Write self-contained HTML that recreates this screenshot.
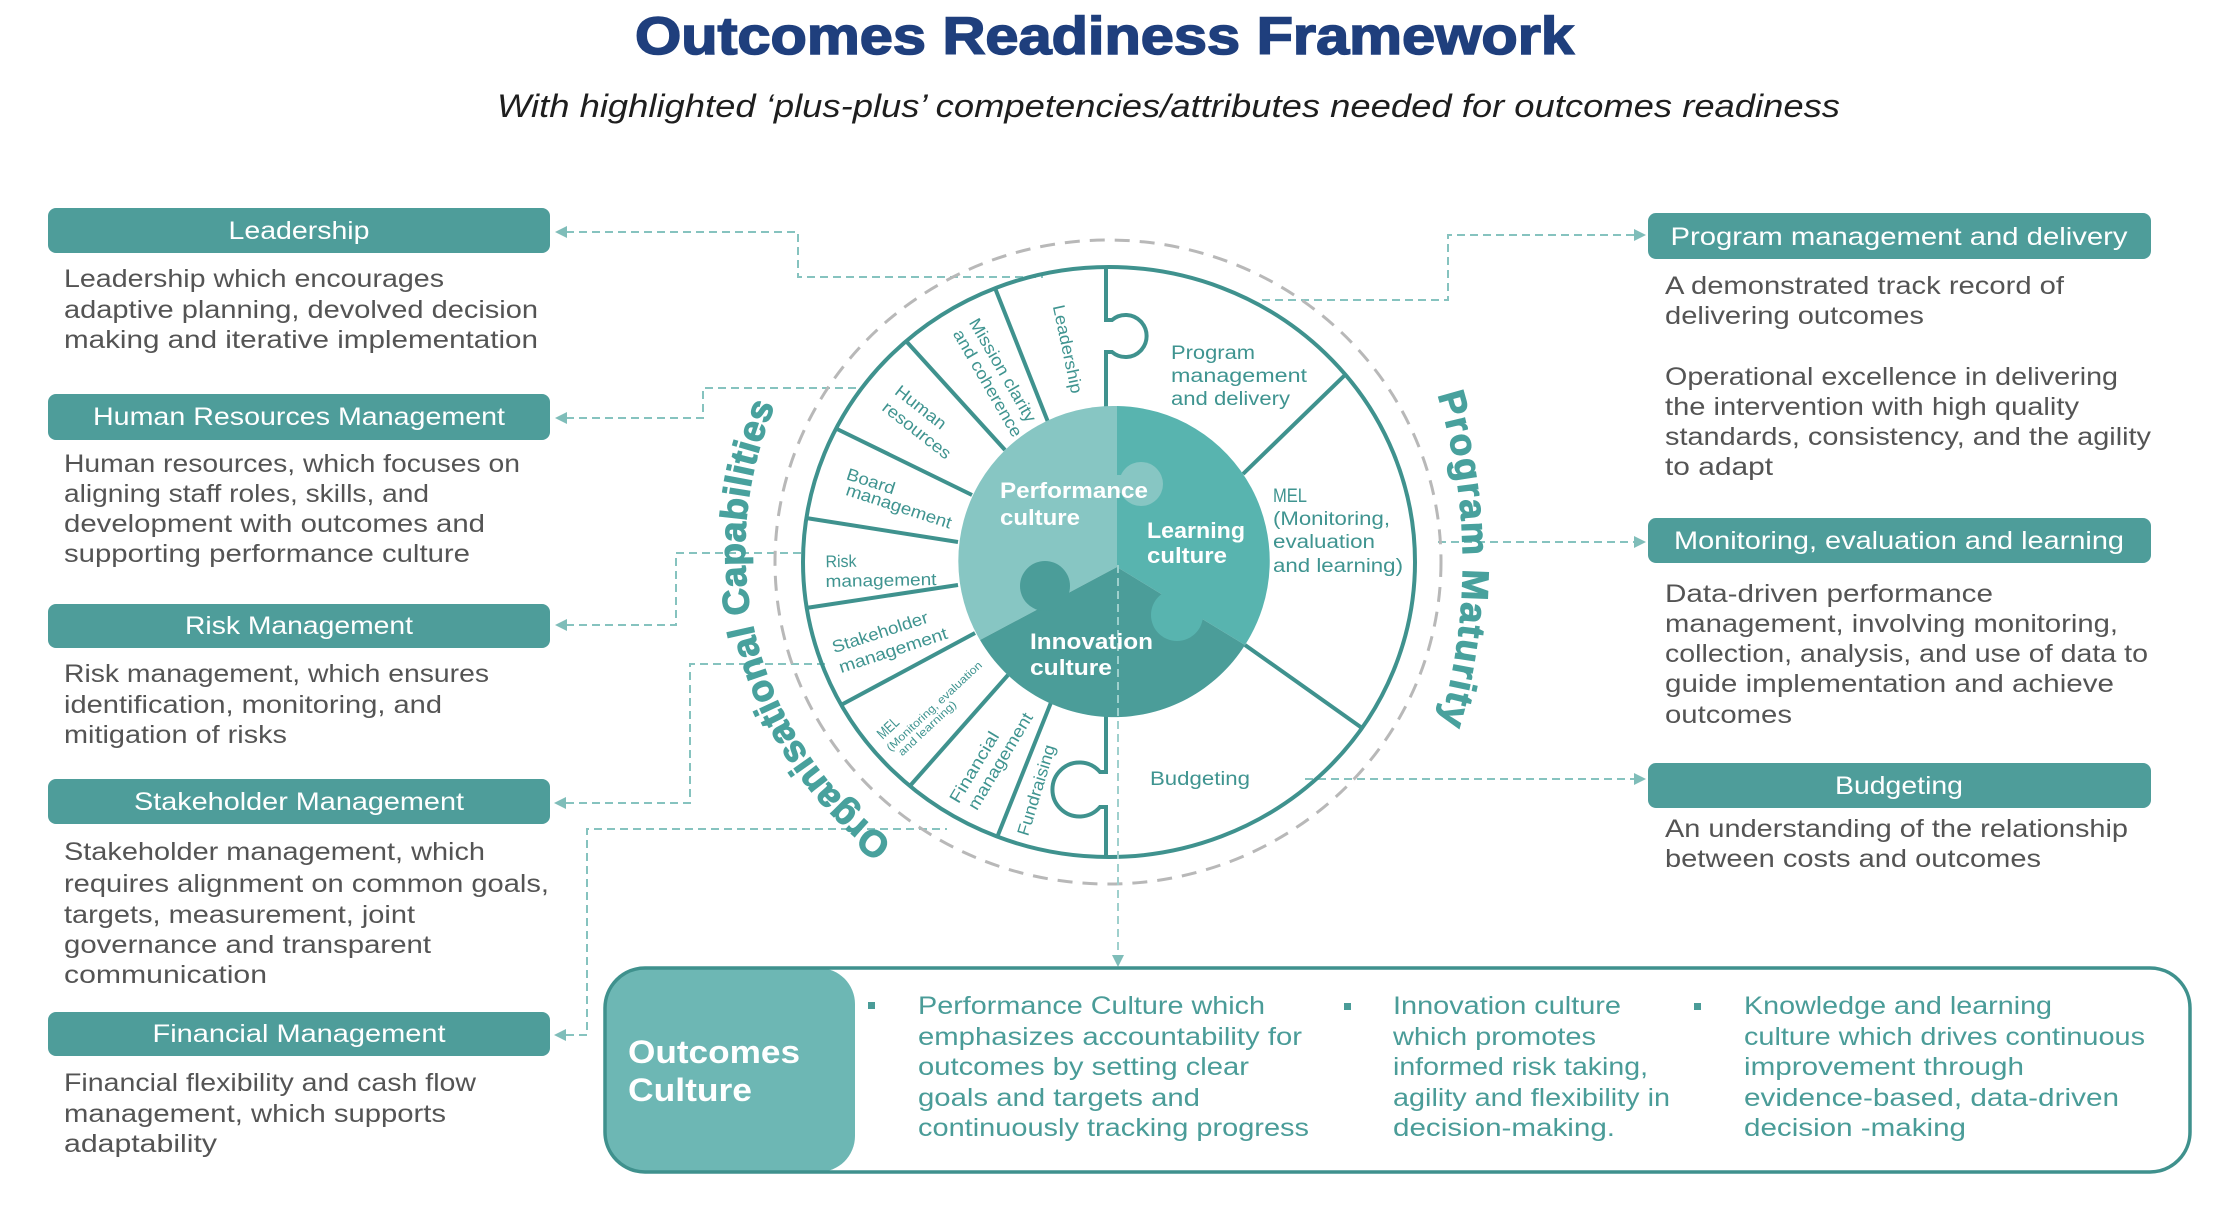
<!DOCTYPE html>
<html><head><meta charset="utf-8">
<style>
html,body{margin:0;padding:0;background:#fff;}
svg{display:block;}
text{font-family:"Liberation Sans", sans-serif;}
</style></head>
<body>
<svg width="2228" height="1218" viewBox="0 0 2228 1218" xmlns="http://www.w3.org/2000/svg">
<rect width="2228" height="1218" fill="#fff"/>

<!-- Title -->
<text x="635" y="54" font-size="53" font-weight="bold" fill="#1f3f7d" stroke="#1f3f7d" stroke-width="1.6" textLength="939" lengthAdjust="spacingAndGlyphs">Outcomes Readiness Framework</text>
<text x="497" y="117" font-size="32" font-style="italic" fill="#1e1e1e" textLength="1343" lengthAdjust="spacingAndGlyphs">With highlighted ‘plus-plus’ competencies/attributes needed for outcomes readiness</text>

<!-- Bars -->
<g fill="#4e9d9a">
<rect x="48" y="208" width="502" height="45" rx="8"/>
<rect x="48" y="394" width="502" height="46" rx="8"/>
<rect x="48" y="604" width="502" height="44" rx="8"/>
<rect x="48" y="779" width="502" height="45" rx="8"/>
<rect x="48" y="1012" width="502" height="44" rx="8"/>
<rect x="1648" y="213" width="503" height="46" rx="8"/>
<rect x="1648" y="518" width="503" height="45" rx="8"/>
<rect x="1648" y="763" width="503" height="45" rx="8"/>
</g>
<g fill="#ffffff" font-size="25" text-anchor="middle">
<text x="299" y="239" textLength="141" lengthAdjust="spacingAndGlyphs">Leadership</text>
<text x="299" y="425" textLength="412" lengthAdjust="spacingAndGlyphs">Human Resources Management</text>
<text x="299" y="634" textLength="228" lengthAdjust="spacingAndGlyphs">Risk Management</text>
<text x="299" y="810" textLength="330" lengthAdjust="spacingAndGlyphs">Stakeholder Management</text>
<text x="299" y="1042" textLength="293" lengthAdjust="spacingAndGlyphs">Financial Management</text>
<text x="1899" y="245" textLength="457" lengthAdjust="spacingAndGlyphs">Program management and delivery</text>
<text x="1899" y="549" textLength="450" lengthAdjust="spacingAndGlyphs">Monitoring, evaluation and learning</text>
<text x="1899" y="794" textLength="128" lengthAdjust="spacingAndGlyphs">Budgeting</text>
</g>

<!-- Left body text -->
<g fill="#545454" font-size="25">
<text x="64" y="287" textLength="380" lengthAdjust="spacingAndGlyphs">Leadership which encourages</text>
<text x="64" y="318" textLength="474" lengthAdjust="spacingAndGlyphs">adaptive planning, devolved decision</text>
<text x="64" y="348" textLength="474" lengthAdjust="spacingAndGlyphs">making and iterative implementation</text>

<text x="64" y="472" textLength="456" lengthAdjust="spacingAndGlyphs">Human resources, which focuses on</text>
<text x="64" y="502" textLength="365" lengthAdjust="spacingAndGlyphs">aligning staff roles, skills, and</text>
<text x="64" y="532" textLength="421" lengthAdjust="spacingAndGlyphs">development with outcomes and</text>
<text x="64" y="562" textLength="406" lengthAdjust="spacingAndGlyphs">supporting performance culture</text>

<text x="64" y="682" textLength="425" lengthAdjust="spacingAndGlyphs">Risk management, which ensures</text>
<text x="64" y="713" textLength="378" lengthAdjust="spacingAndGlyphs">identification, monitoring, and</text>
<text x="64" y="743" textLength="223" lengthAdjust="spacingAndGlyphs">mitigation of risks</text>

<text x="64" y="860" textLength="421" lengthAdjust="spacingAndGlyphs">Stakeholder management, which</text>
<text x="64" y="892" textLength="485" lengthAdjust="spacingAndGlyphs">requires alignment on common goals,</text>
<text x="64" y="923" textLength="351" lengthAdjust="spacingAndGlyphs">targets, measurement, joint</text>
<text x="64" y="953" textLength="367" lengthAdjust="spacingAndGlyphs">governance and transparent</text>
<text x="64" y="983" textLength="203" lengthAdjust="spacingAndGlyphs">communication</text>

<text x="64" y="1091" textLength="412" lengthAdjust="spacingAndGlyphs">Financial flexibility and cash flow</text>
<text x="64" y="1122" textLength="382" lengthAdjust="spacingAndGlyphs">management, which supports</text>
<text x="64" y="1152" textLength="153" lengthAdjust="spacingAndGlyphs">adaptability</text>

<!-- Right body text -->
<text x="1665" y="294" textLength="399" lengthAdjust="spacingAndGlyphs">A demonstrated track record of</text>
<text x="1665" y="324" textLength="259" lengthAdjust="spacingAndGlyphs">delivering outcomes</text>
<text x="1665" y="385" textLength="453" lengthAdjust="spacingAndGlyphs">Operational excellence in delivering</text>
<text x="1665" y="415" textLength="414" lengthAdjust="spacingAndGlyphs">the intervention with high quality</text>
<text x="1665" y="445" textLength="486" lengthAdjust="spacingAndGlyphs">standards, consistency, and the agility</text>
<text x="1665" y="475" textLength="108" lengthAdjust="spacingAndGlyphs">to adapt</text>

<text x="1665" y="602" textLength="328" lengthAdjust="spacingAndGlyphs">Data-driven performance</text>
<text x="1665" y="632" textLength="453" lengthAdjust="spacingAndGlyphs">management, involving monitoring,</text>
<text x="1665" y="662" textLength="483" lengthAdjust="spacingAndGlyphs">collection, analysis, and use of data to</text>
<text x="1665" y="692" textLength="449" lengthAdjust="spacingAndGlyphs">guide implementation and achieve</text>
<text x="1665" y="723" textLength="127" lengthAdjust="spacingAndGlyphs">outcomes</text>

<text x="1665" y="837" textLength="463" lengthAdjust="spacingAndGlyphs">An understanding of the relationship</text>
<text x="1665" y="867" textLength="376" lengthAdjust="spacingAndGlyphs">between costs and outcomes</text>
</g>

<!-- Connectors -->
<g fill="none" stroke="#86c3bf" stroke-width="2" stroke-dasharray="8 5">
<path d="M566,232 H798 V277 H1043"/>
<path d="M566,418 H703 V388 H858"/>
<path d="M566,625 H676 V553 H802"/>
<path d="M566,803 H690 V664 H827"/>
<path d="M566,1035 H587 V829 H947"/>
<path d="M1262,300 H1448 V235 H1634"/>
<path d="M1438,542 H1634"/>
<path d="M1305,779 H1634"/>
</g>
<g fill="#7fbdb9">
<polygon points="555,232 567,226 567,238"/>
<polygon points="555,418 567,412 567,424"/>
<polygon points="555,625 567,619 567,631"/>
<polygon points="554,803 566,797 566,809"/>
<polygon points="554,1035 566,1029 566,1041"/>
<polygon points="1646,235 1634,229 1634,241"/>
<polygon points="1646,542 1634,536 1634,548"/>
<polygon points="1646,779 1634,773 1634,785"/>
</g>

<!-- Dashed gray ring -->
<ellipse cx="1108" cy="562" rx="333" ry="322" fill="none" stroke="#b8b8b8" stroke-width="3" stroke-dasharray="15 10"/>
<!-- Outer solid ring -->
<ellipse cx="1109" cy="562" rx="306" ry="295" fill="none" stroke="#3f928e" stroke-width="4"/>

<!-- Radial dividers -->
<g stroke="#3f928e" stroke-width="4" fill="none" stroke-linecap="butt">
<path d="M1106,267 V320 L1112,320 A21,21 0 1 1 1112,352 L1106,352 V410"/>
<path d="M1106,713 V772 L1100,772 A27,27 0 1 0 1100,807 L1106,807 V858"/>
<line x1="995" y1="288" x2="1048" y2="422"/>
<line x1="906" y1="341" x2="1005" y2="450"/>
<line x1="837" y1="429" x2="972" y2="495"/>
<line x1="806" y1="518" x2="958" y2="542"/>
<line x1="806" y1="608" x2="958" y2="585"/>
<line x1="841" y1="705" x2="975" y2="633"/>
<line x1="909" y1="787" x2="1008" y2="675"/>
<line x1="998" y1="835" x2="1052" y2="700"/>
<line x1="1346" y1="374" x2="1243" y2="474"/>
<line x1="1362" y1="728" x2="1245" y2="645"/>
</g>

<!-- Inner puzzle -->
<path d="M1117,567 L1117,406 A155,155 0 0 0 980,640 Z" fill="#87c6c3"/>
<path d="M1117,567 L1117,406 A155,155 0 0 1 1245,645 Z" fill="#58b4af"/>
<path d="M1117,567 L980,640 A155,155 0 0 0 1245,645 Z" fill="#4b9d99"/>
<circle cx="1141" cy="484" r="22" fill="#87c6c3"/>
<rect x="1112" y="475" width="18" height="18" fill="#87c6c3"/>
<circle cx="1045" cy="586" r="25" fill="#4b9d99"/>
<circle cx="1177" cy="615" r="26" fill="#58b4af"/>

<!-- vertical dashed down connector -->
<path d="M1118,565 V955" fill="none" stroke="#9fd0cd" stroke-width="2" stroke-dasharray="8 5"/>
<polygon points="1118,967 1112,955 1124,955" fill="#7fbdb9"/>

<!-- Inner culture text -->
<g fill="#ffffff" font-size="22" font-weight="bold">
<text x="1000" y="498" textLength="148" lengthAdjust="spacingAndGlyphs">Performance</text>
<text x="1000" y="525" textLength="80" lengthAdjust="spacingAndGlyphs">culture</text>
<text x="1147" y="538" textLength="98" lengthAdjust="spacingAndGlyphs">Learning</text>
<text x="1147" y="563" textLength="80" lengthAdjust="spacingAndGlyphs">culture</text>
<text x="1030" y="649" textLength="123" lengthAdjust="spacingAndGlyphs">Innovation</text>
<text x="1030" y="675" textLength="82" lengthAdjust="spacingAndGlyphs">culture</text>
</g>

<!-- Segment labels -->
<g fill="#3f9490" font-size="17" text-anchor="middle">
<text transform="translate(1068,349) rotate(78)" dy="6" textLength="90" lengthAdjust="spacingAndGlyphs">Leadership</text>
<text transform="translate(1003,370) rotate(60)" dy="6" textLength="117" lengthAdjust="spacingAndGlyphs">Mission clarity</text>
<text transform="translate(988,383) rotate(60)" dy="6" textLength="121" lengthAdjust="spacingAndGlyphs">and coherence</text>
<text transform="translate(921,407) rotate(38)" dy="6" textLength="60" lengthAdjust="spacingAndGlyphs">Human</text>
<text transform="translate(917,430) rotate(38)" dy="6" textLength="82" lengthAdjust="spacingAndGlyphs">resources</text>
<text transform="translate(871,481) rotate(18)" dy="6" textLength="50" lengthAdjust="spacingAndGlyphs">Board</text>
<text transform="translate(899,506) rotate(18)" dy="6" textLength="110" lengthAdjust="spacingAndGlyphs">management</text>
<text transform="translate(841,561) rotate(-1)" dy="6" textLength="31" lengthAdjust="spacingAndGlyphs">Risk</text>
<text transform="translate(881,580) rotate(-1)" dy="6" textLength="111" lengthAdjust="spacingAndGlyphs">management</text>
<text transform="translate(880,632) rotate(-18)" dy="6" textLength="100" lengthAdjust="spacingAndGlyphs">Stakeholder</text>
<text transform="translate(893,650) rotate(-18)" dy="6" textLength="113" lengthAdjust="spacingAndGlyphs">management</text>
<text transform="translate(888,728) rotate(-43)" dy="5" font-size="15" textLength="24" lengthAdjust="spacingAndGlyphs">MEL</text>
<text transform="translate(934,706) rotate(-43)" dy="4" font-size="11" textLength="126" lengthAdjust="spacingAndGlyphs">(Monitoring, evaluation</text>
<text transform="translate(927,728) rotate(-43)" dy="4" font-size="11" textLength="75" lengthAdjust="spacingAndGlyphs">and learning)</text>
<text transform="translate(974,767) rotate(-59)" dy="6" textLength="80" lengthAdjust="spacingAndGlyphs">Financial</text>
<text transform="translate(1000,761) rotate(-59)" dy="6" textLength="110" lengthAdjust="spacingAndGlyphs">management</text>
<text transform="translate(1036,790) rotate(-73)" dy="6" textLength="94" lengthAdjust="spacingAndGlyphs">Fundraising</text>
</g>
<g fill="#3f9490" font-size="19">
<text x="1171" y="359" textLength="84" lengthAdjust="spacingAndGlyphs">Program</text>
<text x="1171" y="382" textLength="136" lengthAdjust="spacingAndGlyphs">management</text>
<text x="1171" y="405" textLength="119" lengthAdjust="spacingAndGlyphs">and delivery</text>
<text x="1273" y="502" textLength="34" lengthAdjust="spacingAndGlyphs">MEL</text>
<text x="1273" y="525" textLength="117" lengthAdjust="spacingAndGlyphs">(Monitoring,</text>
<text x="1273" y="548" textLength="102" lengthAdjust="spacingAndGlyphs">evaluation</text>
<text x="1273" y="572" textLength="130" lengthAdjust="spacingAndGlyphs">and learning)</text>
<text x="1150" y="785" textLength="100" lengthAdjust="spacingAndGlyphs">Budgeting</text>
</g>

<!-- Curved titles -->
<defs>
<path id="arcL" d="M915.6,857.8 A363,363 0 0 1 800.2,357.6"/>
<path id="arcR" d="M1421.1,347.6 A575,575 0 0 1 1421.1,778.4"/>
</defs>
<text font-size="37" font-weight="bold" fill="#48a19d" stroke="#48a19d" stroke-width="1.2" letter-spacing="0.4">
<textPath href="#arcL" startOffset="28">Organisational Capabilities</textPath>
</text>
<text font-size="37" font-weight="bold" fill="#48a19d" stroke="#48a19d" stroke-width="1.2" letter-spacing="1.8">
<textPath href="#arcR" startOffset="50">Program Maturity</textPath>
</text>

<!-- Outcomes Culture box -->
<rect x="605" y="968" width="250" height="204" rx="36" fill="#6db7b4"/>
<rect x="605" y="968" width="1585" height="204" rx="40" fill="none" stroke="#3f918d" stroke-width="3.5"/>
<g fill="#ffffff" font-size="32" font-weight="bold">
<text x="628" y="1063" textLength="172" lengthAdjust="spacingAndGlyphs">Outcomes</text>
<text x="628" y="1101" textLength="124" lengthAdjust="spacingAndGlyphs">Culture</text>
</g>
<g fill="#4a9c98">
<rect x="868" y="1002" width="7" height="7"/>
<rect x="1344" y="1003" width="7" height="7"/>
<rect x="1694" y="1003" width="7" height="7"/>
</g>
<g fill="#4a9c98" font-size="25">
<text x="918" y="1014" textLength="347" lengthAdjust="spacingAndGlyphs">Performance Culture which</text>
<text x="918" y="1045" textLength="384" lengthAdjust="spacingAndGlyphs">emphasizes accountability for</text>
<text x="918" y="1075" textLength="331" lengthAdjust="spacingAndGlyphs">outcomes by setting clear</text>
<text x="918" y="1106" textLength="282" lengthAdjust="spacingAndGlyphs">goals and targets and</text>
<text x="918" y="1136" textLength="391" lengthAdjust="spacingAndGlyphs">continuously tracking progress</text>

<text x="1393" y="1014" textLength="228" lengthAdjust="spacingAndGlyphs">Innovation culture</text>
<text x="1393" y="1045" textLength="203" lengthAdjust="spacingAndGlyphs">which promotes</text>
<text x="1393" y="1075" textLength="255" lengthAdjust="spacingAndGlyphs">informed risk taking,</text>
<text x="1393" y="1106" textLength="277" lengthAdjust="spacingAndGlyphs">agility and flexibility in</text>
<text x="1393" y="1136" textLength="222" lengthAdjust="spacingAndGlyphs">decision-making.</text>

<text x="1744" y="1014" textLength="308" lengthAdjust="spacingAndGlyphs">Knowledge and learning</text>
<text x="1744" y="1045" textLength="401" lengthAdjust="spacingAndGlyphs">culture which drives continuous</text>
<text x="1744" y="1075" textLength="280" lengthAdjust="spacingAndGlyphs">improvement through</text>
<text x="1744" y="1106" textLength="375" lengthAdjust="spacingAndGlyphs">evidence-based, data-driven</text>
<text x="1744" y="1136" textLength="222" lengthAdjust="spacingAndGlyphs">decision -making</text>
</g>
</svg>
</body></html>
